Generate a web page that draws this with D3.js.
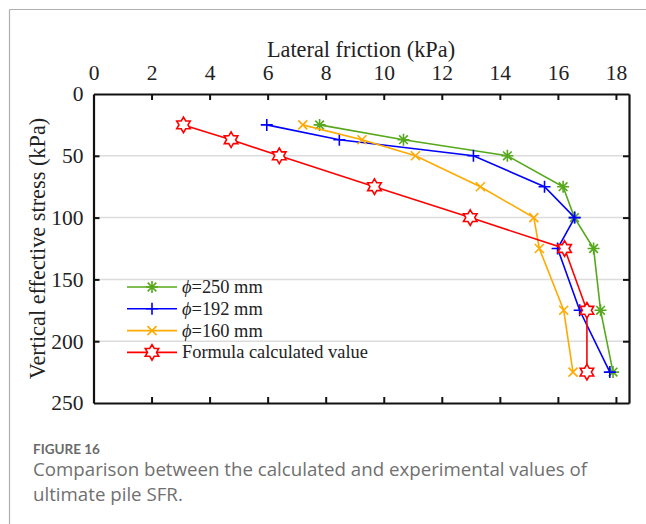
<!DOCTYPE html>
<html><head><meta charset="utf-8">
<script src="https://cdn.jsdelivr.net/npm/d3@7"></script>
<style>
html,body{margin:0;padding:0;background:#fff;}
svg{display:block;}
</style></head>
<body>
<svg id="c" width="646" height="524"></svg>
<script>
const stress = [25, 37, 50, 75, 100, 125, 175, 225];
const phi250 = [7.79, 10.68, 14.26, 16.18, 16.57, 17.23, 17.47, 17.9];
const phi192 = [5.97, 8.47, 13.09, 15.54, 16.58, 15.99, 16.75, 17.79];
const phi160 = [7.21, 9.25, 11.09, 13.33, 15.17, 15.36, 16.2, 16.52];
const formula = [3.10, 4.74, 6.40, 9.68, 12.98, 16.23, 17.0, 17.0];
const seriesNames = ["\u03d5=250 mm", "\u03d5=192 mm", "\u03d5=160 mm", "Formula calculated value"];
const xTicks = [0, 2, 4, 6, 8, 10, 12, 14, 16, 18];
const yTicks = [0, 50, 100, 150, 200, 250];

const svg = d3.select("#c");
const L = 93.5, R = 629, T = 94, B = 403;
const x = d3.scaleLinear().domain([0, 18.45]).range([L, R]);
const y = d3.scaleLinear().domain([0, 250]).range([T, B]);

// page frame
svg.append("line").attr("x1", 9.5).attr("x2", 9.5).attr("y1", 9.5).attr("y2", 524).attr("stroke", "#b0b0b0").attr("stroke-width", 1.2);
svg.append("line").attr("x1", 9.5).attr("x2", 646).attr("y1", 9.5).attr("y2", 9.5).attr("stroke", "#b0b0b0").attr("stroke-width", 1.2);

// grid
svg.append("g").selectAll("line").data([50, 100, 150, 200]).join("line")
  .attr("x1", L).attr("x2", R).attr("y1", d => y(d)).attr("y2", d => y(d))
  .attr("stroke", "#dcdcdc").attr("stroke-width", 1.5);

const font = "'Liberation Serif','Times New Roman',serif";
const tl = 6;
// axes
const gTop = svg.append("g").attr("transform", `translate(0,${T})`)
  .call(d3.axisTop(x).tickValues(xTicks).tickSizeInner(-tl).tickSizeOuter(0).tickPadding(14));
const gBot = svg.append("g").attr("transform", `translate(0,${B})`)
  .call(d3.axisBottom(x).tickValues(xTicks).tickSizeInner(-tl).tickSizeOuter(0).tickFormat(""));
const gLeft = svg.append("g").attr("transform", `translate(${L},0)`)
  .call(d3.axisLeft(y).tickValues(yTicks).tickSizeInner(-tl).tickSizeOuter(0).tickPadding(10));
const gRight = svg.append("g").attr("transform", `translate(${R},0)`)
  .call(d3.axisRight(y).tickValues(yTicks).tickSizeInner(-tl).tickSizeOuter(0).tickFormat(""));
[gTop, gBot, gLeft, gRight].forEach(g => {
  g.select(".domain").attr("stroke", "#111").attr("stroke-width", 2.2);
  g.selectAll(".tick line").attr("stroke", "#111").attr("stroke-width", 2);
  g.selectAll("text").attr("font-family", font).attr("font-size", 21.5).attr("fill", "#222");
});
gTop.selectAll(".tick").filter(d => d === 0).select("line").remove();
gLeft.selectAll(".tick").filter(d => d === 0 || d === 250).select("line").remove();
gRight.selectAll(".tick").filter(d => d === 0 || d === 250).select("line").remove();

svg.append("text").attr("x", 361).attr("y", 57).attr("text-anchor", "middle")
  .attr("font-family", font).attr("font-size", 22.3).attr("fill", "#222").text("Lateral friction (kPa)");
svg.append("text").attr("transform", `translate(45,${(T + B) / 2}) rotate(-90)`).attr("text-anchor", "middle")
  .attr("font-family", font).attr("font-size", 22.3).attr("fill", "#222").text("Vertical effective stress (kPa)");

// markers
function hexagram(r) {
  const pts = [];
  for (let i = 0; i < 12; i++) {
    const a = -Math.PI / 2 + i * Math.PI / 6;
    const rr = i % 2 === 0 ? r : r * 0.58;
    pts.push([rr * Math.cos(a), rr * Math.sin(a)]);
  }
  return "M" + pts.map(p => p.join(",")).join("L") + "Z";
}
function drawMarker(g, type, cx, cy, color) {
  const s = 6;
  let d;
  if (type === "plus") d = `M${cx - s},${cy}L${cx + s},${cy}M${cx},${cy - s}L${cx},${cy + s}`;
  else if (type === "x") { const k = s * 0.75; d = `M${cx - k},${cy - k}L${cx + k},${cy + k}M${cx - k},${cy + k}L${cx + k},${cy - k}`; }
  else if (type === "star") { const k = s * 0.72; d = `M${cx - s},${cy}L${cx + s},${cy}M${cx},${cy - s}L${cx},${cy + s}M${cx - k},${cy - k}L${cx + k},${cy + k}M${cx - k},${cy + k}L${cx + k},${cy - k}`; }
  if (type === "hex") {
    g.append("path").attr("transform", `translate(${cx},${cy})`).attr("d", hexagram(7.8))
      .attr("fill", "#fff").attr("stroke", color).attr("stroke-width", 1.6);
  } else {
    g.append("path").attr("d", d).attr("fill", "none").attr("stroke", color).attr("stroke-width", 1.6);
  }
}

const series = [
  {name: seriesNames[0], vals: phi250, color: "#56a81c", marker: "star"},
  {name: seriesNames[1], vals: phi192, color: "#0000ff", marker: "plus"},
  {name: seriesNames[2], vals: phi160, color: "#ffaa00", marker: "x"},
  {name: seriesNames[3], vals: formula, color: "#ff0000", marker: "hex"}
];
const line = d3.line().x(d => x(d[0])).y(d => y(d[1]));
const plot = svg.append("g");
series.forEach(s => {
  const pts = s.vals.map((v, i) => [v, stress[i]]);
  plot.append("path").attr("d", line(pts)).attr("fill", "none").attr("stroke", s.color).attr("stroke-width", 1.6);
  pts.forEach(p => drawMarker(plot, s.marker, x(p[0]), y(p[1]), s.color));
});

// legend
const lg = svg.append("g");
const ly0 = 287, ldy = 21.8;
series.forEach((s, i) => {
  const yy = ly0 + i * ldy;
  lg.append("line").attr("x1", 127).attr("x2", 177).attr("y1", yy).attr("y2", yy).attr("stroke", s.color).attr("stroke-width", 1.6);
  drawMarker(lg, s.marker, 152, yy, s.color);
  lg.append("text").attr("x", 182).attr("y", yy + 6).attr("font-family", font).attr("font-size", 18.4).attr("fill", "#222")
    .html(s.name.startsWith("\u03d5") ? `<tspan font-style="italic">\u03d5</tspan>${s.name.slice(1)}` : s.name);
});

// caption
const cf = "'Open Sans','Noto Sans',sans-serif";
svg.append("text").attr("x", 33).attr("y", 454).attr("font-family", "Lato,'Noto Sans',sans-serif").attr("font-size", 13.5).attr("font-weight", 700)
  .attr("fill", "#6a6a6a").text("FIGURE 16");
svg.append("text").attr("x", 33).attr("y", 476).attr("font-family", cf).attr("font-size", 18.7).attr("fill", "#707070")
  .text("Comparison between the calculated and experimental values of");
svg.append("text").attr("x", 33).attr("y", 501).attr("font-family", cf).attr("font-size", 18.7).attr("fill", "#707070")
  .text("ultimate pile SFR.");
</script>
</body></html>
